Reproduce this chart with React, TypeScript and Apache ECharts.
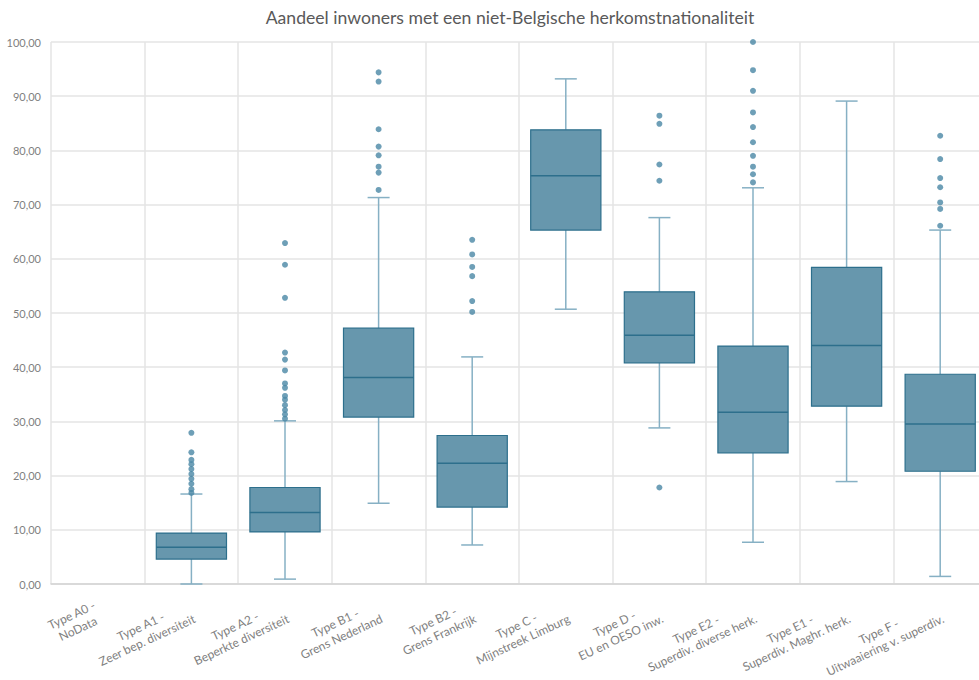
import React, { useEffect, useRef } from "react";
import * as echarts from "echarts";

const categories = [
  "Type A0 -\nNoData",
  "Type A1 -\nZeer bep. diversiteit",
  "Type A2 -\nBeperkte diversiteit",
  "Type B1 -\nGrens Nederland",
  "Type B2 -\nGrens Frankrijk",
  "Type C -\nMijnstreek Limburg",
  "Type D -\nEU en OESO inw.",
  "Type E2 -\nSuperdiv. diverse herk.",
  "Type E1 -\nSuperdiv. Maghr. herk.",
  "Type F -\nUitwaaiering v. superdiv.",
];

// [min, Q1, median, Q3, max] per category (null = no data)
const boxStats: (number[] | null)[] = [
  null,
  [0, 4.6, 6.8, 9.4, 16.6],
  [0.9, 9.6, 13.2, 17.8, 30.1],
  [14.9, 30.8, 38.1, 47.2, 71.3],
  [7.2, 14.2, 22.3, 27.4, 41.9],
  [50.7, 65.3, 75.3, 83.8, 93.2],
  [28.8, 40.8, 45.9, 53.9, 67.6],
  [7.7, 24.2, 31.7, 43.9, 73.1],
  [18.9, 32.8, 44.0, 58.4, 89.1],
  [1.4, 20.8, 29.5, 38.7, 65.3],
];

const outliersA0: number[] = [];
const outliersA1 = [27.9, 24.3, 22.9, 22.1, 21.2, 20.3, 19.4, 18.5, 17.5, 16.8];
const outliersA2 = [62.9, 58.9, 52.8, 42.7, 41.4, 39.4, 37.0, 36.2, 34.7, 34.0, 33.0, 32.1, 31.3, 30.5];
const outliersB1 = [94.4, 92.7, 83.9, 80.7, 79.1, 77.0, 75.9, 72.7];
const outliersB2 = [63.5, 60.8, 58.5, 56.8, 52.2, 50.2];
const outliersC: number[] = [];
const outliersD = [86.4, 84.9, 77.4, 74.4, 17.8];
const outliersE2 = [100.0, 94.8, 91.0, 87.0, 84.3, 81.5, 79.0, 77.0, 75.6, 74.1];
const outliersE1: number[] = [];
const outliersF = [82.7, 78.4, 74.9, 73.2, 70.4, 69.2, 66.1];

const outliers = [
  outliersA0, outliersA1, outliersA2, outliersB1, outliersB2,
  outliersC, outliersD, outliersE2, outliersE1, outliersF,
];

const yTicks = { min: 0, max: 100, interval: 10 };

const BOX_FILL = "#6797ad";
const BOX_BORDER = "#2d6f8c";
const WHISKER = "#86b0c4";
const DOT = "#4a87a5";
const GRID = "#e4e4e4";
const LABEL = "#7f7f7f";

export default function App() {
  const ref = useRef<HTMLDivElement>(null);

  useEffect(() => {
    if (!ref.current) return;
    const chart = echarts.init(ref.current, undefined, { renderer: "svg" });

    const boxData: any[] = [];
    boxStats.forEach((s, i) => {
      if (s) boxData.push([i, ...s]);
    });
    const dotData: any[] = [];
    outliers.forEach((arr, i) => arr.forEach((v) => dotData.push([i, v])));

    const option: any = {
      animation: false,
      backgroundColor: "#ffffff",
      textStyle: { fontFamily: "Lato" },
      title: {
        text: "Aandeel inwoners met een niet-Belgische herkomstnationaliteit",
        left: 505,
        textAlign: "center",
        top: 3,
        textStyle: { fontFamily: "Lato", fontSize: 17.6, fontWeight: "normal", color: "#595959" },
      },
      grid: { left: 51, top: 42, width: 936, height: 542, containLabel: false },
      xAxis: {
        type: "category",
        data: categories,
        boundaryGap: true,
        axisLine: { show: true, lineStyle: { color: "#d3d3d3", width: 1.5 } },
        axisTick: { show: false },
        splitLine: { show: true, lineStyle: { color: GRID, width: 1.5 } },
        axisLabel: {
          interval: 0,
          rotate: 25,
          margin: 27,
          color: LABEL,
          fontSize: 12,
          fontFamily: "Lato",
          formatter: (v: string) => {
            const [a, b] = v.split("\n");
            return "{c|" + a + "}\n{c|" + b + "}";
          },
          rich: {
            c: { align: "center", color: LABEL, fontSize: 12, fontFamily: "Lato", lineHeight: 15 },
          },
        },
      },
      yAxis: {
        type: "value",
        min: yTicks.min,
        max: yTicks.max,
        interval: yTicks.interval,
        axisLine: { show: false },
        axisTick: { show: false },
        splitLine: { show: true, lineStyle: { color: GRID, width: 1.5 } },
        axisLabel: {
          color: LABEL,
          fontSize: 11,
          fontFamily: "Lato",
          margin: 10,
          formatter: (v: number) => v.toFixed(2).replace(".", ","),
        },
      },
      series: [
        {
          type: "custom",
          data: boxData,
          encode: { x: 0, y: [1, 2, 3, 4, 5] },
          z: 3,
          renderItem: (params: any, api: any) => {
            const idx = api.value(0);
            const lo = api.coord([idx, api.value(1)]);
            const q1 = api.coord([idx, api.value(2)]);
            const med = api.coord([idx, api.value(3)]);
            const q3 = api.coord([idx, api.value(4)]);
            const hi = api.coord([idx, api.value(5)]);
            const bw = api.size([1, 0])[0] * 0.75;
            const cx = q1[0];
            const capW = 22;
            const wStyle = { stroke: WHISKER, lineWidth: 1.5 };
            return {
              type: "group",
              children: [
                { type: "line", shape: { x1: cx, y1: q3[1], x2: cx, y2: hi[1] }, style: wStyle },
                { type: "line", shape: { x1: cx, y1: q1[1], x2: cx, y2: lo[1] }, style: wStyle },
                { type: "line", shape: { x1: cx - capW / 2, y1: hi[1], x2: cx + capW / 2, y2: hi[1] }, style: wStyle },
                { type: "line", shape: { x1: cx - capW / 2, y1: lo[1], x2: cx + capW / 2, y2: lo[1] }, style: wStyle },
                {
                  type: "rect",
                  shape: { x: cx - bw / 2, y: q3[1], width: bw, height: q1[1] - q3[1] },
                  style: { fill: BOX_FILL, stroke: BOX_BORDER, lineWidth: 1.2 },
                },
                {
                  type: "line",
                  shape: { x1: cx - bw / 2, y1: med[1], x2: cx + bw / 2, y2: med[1] },
                  style: { stroke: BOX_BORDER, lineWidth: 1.5 },
                },
              ],
            };
          },
        },
        {
          type: "scatter",
          data: dotData,
          symbol: "circle",
          symbolSize: 6,
          z: 4,
          clip: false,
          itemStyle: { color: DOT },
        },
      ],
    };
    chart.setOption(option);
    return () => chart.dispose();
  }, []);

  return (
    <div
      style={{
        position: "absolute",
        left: 0,
        top: 0,
        width: 979,
        height: 680,
        overflow: "hidden",
        background: "#ffffff",
      }}
    >
      <div ref={ref} style={{ width: 1000, height: 680 }} />
    </div>
  );
}
